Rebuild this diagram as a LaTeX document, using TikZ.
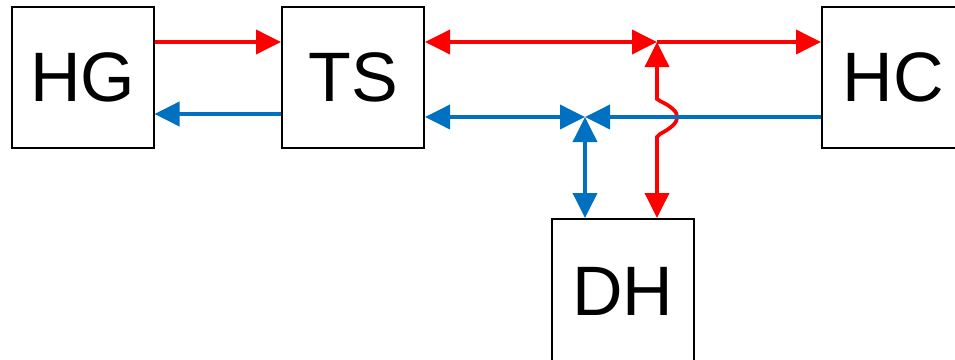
\documentclass[tikz,border=0pt]{standalone}
\usepackage{fontspec}
\setmainfont{Liberation Sans}
\usetikzlibrary{arrows.meta}

\definecolor{hotred}{HTML}{FF0000}
\definecolor{coldblue}{HTML}{0070C0}

\tikzset{
  unit/.style={draw=black, line width=2pt, fill=white,
    minimum width=142pt, minimum height=141pt, inner sep=0pt,
    font=\fontsize{70}{84}\selectfont},
  tip/.tip={Triangle[length=25pt, width=24pt]},
  hot/.style={draw=hotred, line width=3.75pt},
  cold/.style={draw=coldblue, line width=3.75pt},
}

\begin{document}
\begin{tikzpicture}[x=1pt, y=-1pt]
  \useasboundingbox (0,0) rectangle (955,359);

  % units
  \node[unit] (HG) at (82.5,77.5) {HG};
  \node[unit] (TS) at (353,77.5) {TS};
  \node[unit] (HC) at (893,77.5) {HC};
  \node[unit, minimum height=144pt] (DH) at (623,291) {DH};

  % rows of the supply and return lines, and the two junctions
  \coordinate (r)  at (0,42);
  \coordinate (b1) at (0,114);
  \coordinate (b2) at (0,117);
  \coordinate (J1) at (657,42);
  \coordinate (J2) at (585,117);

  % generator loop
  \draw[hot, -tip]  (HG.east |- r)  -- (TS.west |- r);
  \draw[cold, -tip] (TS.west |- b1) -- (HG.east |- b1);

  % supply side
  \draw[hot, tip-tip] (TS.east |- r) -- (J1);
  \draw[hot, -tip]    (J1) -- (HC.west |- r);
  \draw[hot, tip-tip] (J1 |- DH.north) -- (657,137) -- (660,134)
      .. controls (683,122) and (683,112) .. (660,101) -- (657,99) -- (J1);

  % return side
  \draw[cold, tip-tip] (TS.east |- b2) -- (J2);
  \draw[cold, -tip]    (HC.west |- b2) -- (J2);
  \draw[cold, tip-tip] (J2) -- (J2 |- DH.north);
\end{tikzpicture}
\end{document}
